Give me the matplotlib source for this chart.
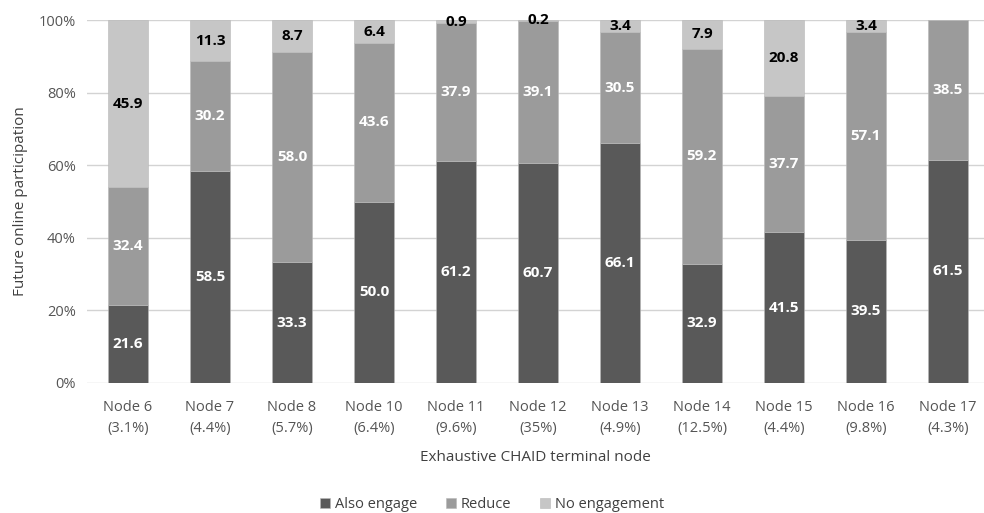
import numpy as np
import matplotlib.pyplot as plt

# Datos por nodo terminal (porcentajes)
nodos = ["Node 6\n(3.1%)", "Node 7\n(4.4%)", "Node 8\n(5.7%)", "Node 10\n(6.4%)",
         "Node 11\n(9.6%)", "Node 12\n(35%)", "Node 13\n(4.9%)", "Node 14\n(12.5%)",
         "Node 15\n(4.4%)", "Node 16\n(9.8%)", "Node 17\n(4.3%)"]
also_engage = [21.6, 58.5, 33.3, 50.0, 61.2, 60.7, 66.1, 32.9, 41.5, 39.5, 61.5]
reduce_ = [32.4, 30.2, 58.0, 43.6, 37.9, 39.1, 30.5, 59.2, 37.7, 57.1, 38.5]
no_engagement = [45.9, 11.3, 8.7, 6.4, 0.9, 0.2, 3.4, 7.9, 20.8, 3.4, 0.0]

plt.rcParams['font.family'] = ['Open Sans', 'DejaVu Sans']

fig = plt.figure(figsize=(9.84, 5.13), dpi=100)
ax = fig.add_axes([87 / 984, 130 / 513, (984 - 87) / 984, 363 / 513])

x = np.arange(len(nodos))
ancho = 0.49
series = [
    ("Also engage", also_engage, "#595959", "white"),
    ("Reduce", reduce_, "#9b9b9b", "white"),
    ("No engagement", no_engagement, "#c6c6c6", "black"),
]
base = np.zeros(len(nodos))
for nombre, vals, color, color_txt in series:
    vals = np.array(vals)
    ax.bar(x, vals, ancho, bottom=base, color=color, label=nombre, zorder=3,
           edgecolor="#b8b8b8", linewidth=0.4)
    for xi, b, v in zip(x, base, vals):
        if v > 0:
            ax.text(xi, b + v / 2, f"{v:.1f}", ha="center", va="center",
                    color=color_txt, fontsize=11, fontweight="bold", zorder=4)
    base += vals

ax.set_ylim(0, 100)
ax.set_xlim(-0.5, 10.44)
ax.set_yticks(np.arange(0, 101, 20))
ax.set_yticklabels([f"{v}%" for v in range(0, 101, 20)], fontsize=10.5, color="#555555")
ax.set_xticks(x)
ax.set_xticklabels(nodos, fontsize=10.5, color="#555555", linespacing=1.55)
ax.tick_params(axis="y", length=0, pad=8)
ax.tick_params(axis="x", length=0, pad=12)
ax.grid(axis="y", color="#d3d3d3", linewidth=1, zorder=0)
for s in ax.spines.values():
    s.set_visible(False)

ax.set_ylabel("Future online participation", fontsize=11, color="#404040", labelpad=8)
ax.set_xlabel("Exhaustive CHAID terminal node", fontsize=11, color="#404040", labelpad=10)

fig.legend(loc="lower center", bbox_to_anchor=(0.5, -0.024), ncol=3, frameon=False,
           fontsize=10.5, handlelength=0.7, handleheight=0.7, handletextpad=0.3,
           columnspacing=2.0, labelcolor="#404040")

fig.savefig("out.png", dpi=100)
